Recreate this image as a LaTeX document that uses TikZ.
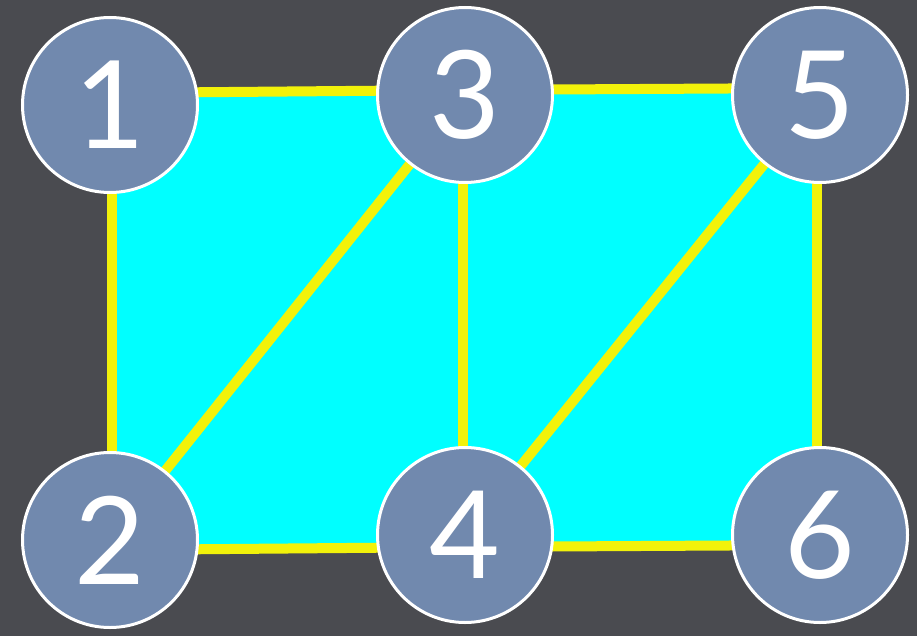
\documentclass[tikz,border=0pt]{standalone}
\usepackage{fontspec}
\setmainfont{Lato}
\definecolor{board}{HTML}{4A4B50}
\definecolor{nodefill}{HTML}{7189AE}
\definecolor{edgeyel}{HTML}{F2F20A}
\definecolor{facecyan}{HTML}{00FFFF}
\tikzset{
  vtx/.style={circle, fill=nodefill, draw=white, line width=3pt, minimum size=175pt, inner sep=0pt,
    text=white, font=\fontsize{122}{122}\selectfont},
  edge/.style={draw=edgeyel, line width=10pt},
}
\begin{document}
\begin{tikzpicture}[x=1pt,y=-1pt]
\fill[board] (0,0) rectangle (917,636);
\useasboundingbox (0,0) rectangle (917,636);
% corners of the faces
\coordinate (a) at (112,93);
\coordinate (b) at (463,90);
\coordinate (c) at (817,88);
\coordinate (d) at (817,545);
\coordinate (e) at (463,547);
\coordinate (f) at (112,550);
\fill[facecyan] (a) -- (b) -- (c) -- (d) -- (e) -- (f) -- cycle;
% node centres
\coordinate (p1) at (110,105);
\coordinate (p3) at (465,95);
\coordinate (p5) at (820,95);
\coordinate (p2) at (110,540);
\coordinate (p4) at (465,535);
\coordinate (p6) at (820,535);
% edges
\draw[edge] (a) -- (b) -- (c);
\draw[edge] (c) -- (d);
\draw[edge] (d) -- (e) -- (f);
\draw[edge] (f) -- (a);
\draw[edge] (b) -- (e);
\draw[edge] (p3) -- (p2);
\draw[edge] (p5) -- (p4);
% vertices
\node[vtx] (n1) at (p1) {1};
\node[vtx] (n3) at (p3) {3};
\node[vtx] (n5) at (p5) {5};
\node[vtx] (n2) at (p2) {2};
\node[vtx] (n4) at (p4) {4};
\node[vtx] (n6) at (p6) {6};
\end{tikzpicture}
\end{document}
